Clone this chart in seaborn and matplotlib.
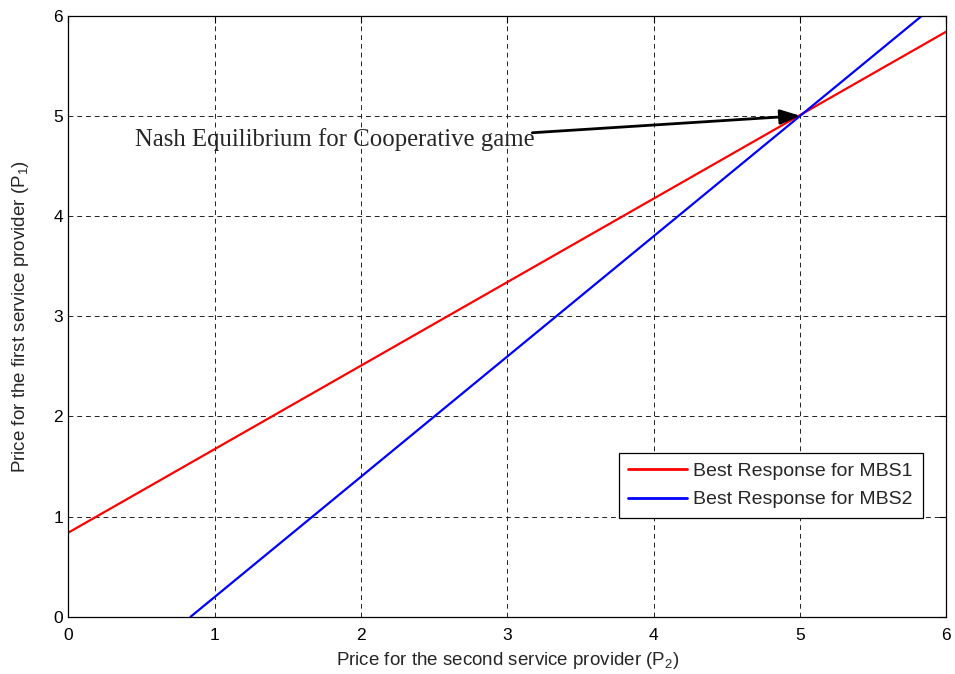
import matplotlib
matplotlib.use("Agg")
import matplotlib.pyplot as plt
import seaborn as sns
import pandas as pd

# Best-response lines (endpoints, P2 on x, P1 on y)
p2_mbs1 = [0.0, 6.0]
p1_mbs1 = [0.84, 5.84]
p2_mbs2 = [0.835, 5.835]
p1_mbs2 = [0.0, 6.0]

series_names = ["Best Response for MBS1", "Best Response for MBS2"]
series_colors = ["#ff0000", "#0000ff"]

nash_point = (5.0, 5.0)
nash_text = "Nash Equilibrium for Cooperative game"

x_ticks = [0, 1, 2, 3, 4, 5, 6]
y_ticks = [0, 1, 2, 3, 4, 5, 6]

sns.set_style("white")
plt.rcParams["font.family"] = ["Liberation Sans", "DejaVu Sans"]
plt.rcParams["mathtext.fontset"] = "custom"
plt.rcParams["mathtext.rm"] = "Liberation Sans"
plt.rcParams["mathtext.default"] = "regular"

df = pd.concat([
    pd.DataFrame({"P2": p2_mbs1, "P1": p1_mbs1, "series": series_names[0]}),
    pd.DataFrame({"P2": p2_mbs2, "P1": p1_mbs2, "series": series_names[1]}),
], ignore_index=True)

fig = plt.figure(figsize=(9.55, 6.74), dpi=100)
ax = fig.add_axes([0.0717, 0.085, 0.9193, 0.892])

sns.lineplot(data=df, x="P2", y="P1", hue="series", palette=series_colors,
             linewidth=1.6, ax=ax, sort=False, estimator=None)

ax.set_xlim(0, 6)
ax.set_ylim(0, 6)
ax.set_xticks(x_ticks)
ax.set_yticks(y_ticks)
ax.grid(True, color="#222222", linestyle=(0, (5, 4)), linewidth=0.7)
ax.set_axisbelow(True)
for s in ax.spines.values():
    s.set_visible(True)
    s.set_color("black")
    s.set_linewidth(0.9)
ax.tick_params(direction="in", length=5, width=0.8, top=True, right=True,
               labelsize=12.5, colors="black")
ax.tick_params(axis="x", pad=8)
ax.tick_params(axis="y", pad=4)

ax.set_xlabel("Price for the second service provider (P$_2$)", fontsize=13.5, labelpad=5)
ax.set_ylabel("Price for the first service provider (P$_1$)", fontsize=13.5, labelpad=16)

# Annotation text and arrow pointing at the equilibrium
ax.text(0.455, 4.76, nash_text, family=["Liberation Serif", "DejaVu Serif"],
        fontsize=17.8, ha="left", va="center")
ax.annotate("", xy=nash_point, xytext=(3.17, 4.83),
            arrowprops=dict(arrowstyle="-|>,head_length=1.2,head_width=0.45",
                            color="black", lw=2, shrinkA=0, shrinkB=0))

leg = ax.legend(loc="lower right", bbox_to_anchor=(0.973, 0.164),
                borderaxespad=0, fontsize=14, handlelength=3.0,
                handletextpad=0.35, frameon=True, fancybox=False, framealpha=1,
                edgecolor="black", borderpad=0.5, labelspacing=0.55)
leg.get_frame().set_linewidth(0.9)
for line in leg.get_lines():
    line.set_linewidth(2)

fig.savefig("out.png", dpi=100)
